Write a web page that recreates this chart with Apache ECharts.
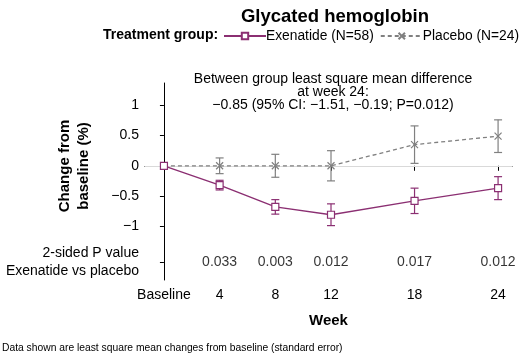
<!DOCTYPE html>
<html>
<head>
<meta charset="utf-8">
<script src="https://cdn.jsdelivr.net/npm/echarts@6/dist/echarts.min.js"></script>
<style>
html,body{margin:0;padding:0;background:#fff;}
#main{width:520px;height:356px;}
</style>
</head>
<body>
<div id="main"></div>
<script>
// weeks (0 = baseline)
var weeks = [0, 4, 8, 12, 18, 24];
var exenatideMean = [0, -0.32, -0.68, -0.81, -0.58, -0.37];
var exenatideSE = [0, 0.08, 0.12, 0.18, 0.21, 0.19];
var placeboMean = [0, 0, 0, 0, 0.35, 0.49];
var placeboSE = [0, 0.13, 0.19, 0.25, 0.31, 0.27];
var pWeeks = [4, 8, 12, 18, 24];
var pValues = ['0.033', '0.003', '0.012', '0.017', '0.012'];
var yTicks = [-1, -0.5, 0, 0.5, 1];
var pRow = -1.59;

var font = '"Liberation Sans", Arial, sans-serif';
var purple = '#8b2f72';
var grey = '#808080';

function pairs(xs, ys, es){
    var out = [];
    for(var i=0;i<xs.length;i++){
        out.push(es ? [xs[i], ys[i], es[i]] : [xs[i], ys[i]]);
    }
    return out;
}

function errBars(params, api){
    var se = api.value(2);
    if(!se) return null;
    var x = api.value(0), m = api.value(1);
    var top = api.coord([x, m + se]);
    var bot = api.coord([x, m - se]);
    var w = 4;
    var st = {stroke: api.visual('color'), lineWidth: 1.2};
    return {
        type: 'group',
        children: [
            {type:'line', shape:{x1:top[0], y1:top[1], x2:bot[0], y2:bot[1]}, style: st},
            {type:'line', shape:{x1:top[0]-w, y1:top[1], x2:top[0]+w, y2:top[1]}, style: st},
            {type:'line', shape:{x1:bot[0]-w, y1:bot[1], x2:bot[0]+w, y2:bot[1]}, style: st}
        ]
    };
}

var pData = [];
for(var i=0;i<pWeeks.length;i++){
    pData.push([pWeeks[i], pRow, pValues[i]]);
}

var chart = echarts.init(document.getElementById('main'));
var option = {
    animation: false,
    textStyle: {fontFamily: font},
    title: [
        {
            text: 'Glycated hemoglobin',
            left: 330, top: 2, textAlign: 'center',
            textStyle: {fontFamily: font, fontSize: 18.5, fontWeight: 'bold', color: '#000'}
        },
        {
            text: 'Between group least square mean difference\nat week 24:\n\u22120.85 (95% CI: \u22121.51, \u22120.19; P=0.012)',
            left: 328, top: 68, textAlign: 'center',
            textStyle: {fontFamily: font, fontSize: 14, fontWeight: 'normal', color: '#000', lineHeight: 12.8}
        }
    ],
    legend: {
        left: 218, top: 24, width: 320, orient: 'horizontal',
        itemWidth: 42, itemHeight: 8, itemGap: 6,
        textStyle: {fontFamily: font, fontSize: 13.8, color: '#000', padding: [0, 0, 0, -5]},
        data: ['Exenatide (N=58)', 'Placebo (N=24)']
    },
    graphic: [
        {
            type: 'text', left: 103, top: 28,
            style: {text: 'Treatment group:', fontFamily: font, fontSize: 14, fontWeight: 'bold', fill: '#000'}
        },
        {
            type: 'text', x: 74, y: 166, rotation: Math.PI / 2,
            style: {text: 'Change from\nbaseline (%)', fontFamily: font, fontSize: 15, fontWeight: 'bold',
                    fill: '#000', align: 'center', verticalAlign: 'middle', lineHeight: 19}
        },
        {
            type: 'text', left: 2, top: 343,
            style: {text: 'Data shown are least square mean changes from baseline (standard error)',
                    fontFamily: font, fontSize: 10.3, fill: '#000'}
        }
    ],
    grid: {left: 145, right: 8, top: 83, bottom: 76},
    xAxis: {
        type: 'value', min: -1.36, max: 25,
        name: 'Week', nameLocation: 'middle', nameGap: 33,
        nameTextStyle: {fontFamily: font, fontSize: 15, fontWeight: 'bold', color: '#000'},
        splitLine: {show: false},
        axisLine: {lineStyle: {color: '#000', width: 1}},
        axisTick: {customValues: weeks, length: 5, lineStyle: {color: '#000'}},
        axisLabel: {
            customValues: weeks, margin: 8, fontSize: 14, color: '#000', fontFamily: font,
            formatter: function(v){ return v === 0 ? 'Baseline' : String(v); }
        }
    },
    yAxis: {
        type: 'value', min: -1.89, max: 1.37,
        splitLine: {show: false},
        axisLine: {show: true, lineStyle: {color: '#000', width: 1}},
        axisTick: {show: true, customValues: yTicks.concat([pRow]), length: 4, lineStyle: {color: '#000'}},
        axisLabel: {
            customValues: yTicks.concat([pRow]), margin: 6, fontSize: 14, color: '#000', fontFamily: font,
            lineHeight: 18,
            formatter: function(v){
                if(v === pRow) return '{s|2-sided P value}\n{s|Exenatide vs placebo}';
                return String(v).replace('-', '\u2212');
            },
            rich: {s: {fontSize: 14, fontFamily: font, color: '#000', lineHeight: 18, align: 'right'}}
        }
    },
    series: [
        {
            name: 'Placebo (N=24)',
            type: 'line',
            data: pairs(weeks, placeboMean),
            symbol: 'path://M0,0L10,10M10,0L0,10',
            symbolSize: 7,
            itemStyle: {color: grey, borderColor: grey, borderWidth: 1.2},
            lineStyle: {color: grey, width: 1.3, type: [4, 3]},
            z: 3,
            markLine: {
                silent: true, symbol: 'none', label: {show: false},
                lineStyle: {color: '#d9d9d9', width: 1, type: 'solid'},
                data: [{yAxis: 0}],
                z: 1
            }
        },
        {
            name: 'Exenatide (N=58)',
            type: 'line',
            data: pairs(weeks, exenatideMean),
            symbol: 'rect',
            symbolSize: 7,
            itemStyle: {color: '#fff', borderColor: purple, borderWidth: 1.2},
            lineStyle: {color: purple, width: 1.4},
            z: 4
        },
        {
            type: 'custom',
            renderItem: errBars,
            data: pairs(weeks, placeboMean, placeboSE),
            itemStyle: {color: grey},
            encode: {x: 0, y: 1},
            silent: true,
            z: 2
        },
        {
            type: 'custom',
            renderItem: errBars,
            data: pairs(weeks, exenatideMean, exenatideSE),
            itemStyle: {color: purple},
            encode: {x: 0, y: 1},
            silent: true,
            z: 2
        },
        {
            type: 'scatter',
            data: pData,
            symbolSize: 0,
            silent: true,
            label: {
                show: true, position: 'inside', fontSize: 14, color: '#000', fontFamily: font,
                formatter: function(p){ return p.value[2]; }
            }
        }
    ]
};
chart.setOption(option);
</script>
</body>
</html>
